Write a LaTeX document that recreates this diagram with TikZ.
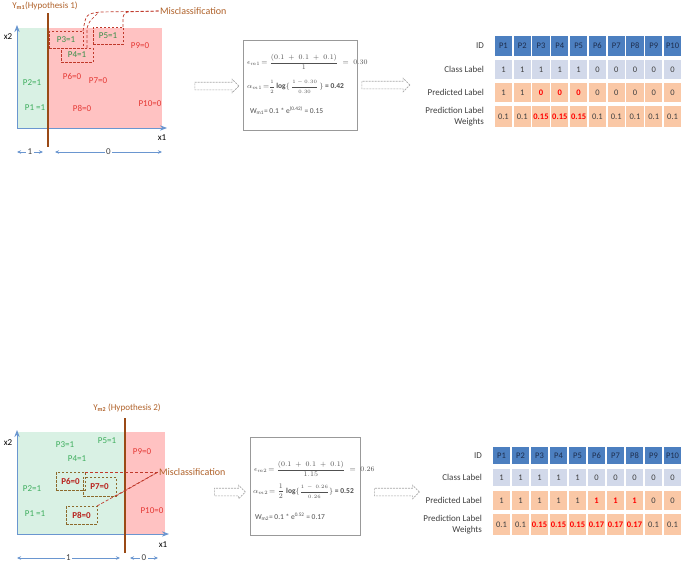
\documentclass[tikz,border=0pt]{standalone}
\usepackage{fontspec}
\setmainfont{Carlito}
\usepackage{amsmath}
\usetikzlibrary{shapes.arrows, positioning, arrows.meta}

\definecolor{axisblue}{HTML}{6A96D0}
\definecolor{hypbrown}{HTML}{9A4A16}
\definecolor{hyptext}{HTML}{B0622A}
\definecolor{zonegreen}{HTML}{D9F1E4}
\definecolor{zonered}{HTML}{FFC2C2}
\definecolor{ptgreen}{HTML}{3FAE5E}
\definecolor{ptdkgreen}{HTML}{3A8F4A}
\definecolor{ptred}{HTML}{E53935}
\definecolor{ptdkred}{HTML}{B8231E}
\definecolor{leadred}{HTML}{C0392B}
\definecolor{boxolive}{HTML}{8C6A2C}
\definecolor{idblue}{HTML}{4C7FC0}
\definecolor{idtext}{HTML}{1E2E4E}
\definecolor{classblue}{HTML}{D2D9EA}
\definecolor{peach}{HTML}{FAC8A6}
\definecolor{celltext}{HTML}{404040}
\definecolor{formgray}{HTML}{505050}

\newcommand{\wrong}[1]{\textcolor{red}{\textbf{#1}}}
\newcommand{\smallfrac}[2]{{\fontsize{5}{6}\selectfont$\dfrac{#1}{#2}$}}

\begin{document}
\begin{tikzpicture}[x=1pt,y=-1pt,
    every node/.style={inner sep=0pt,outer sep=0pt},
    axis/.style={->,>=Stealth,draw=axisblue,line width=0.9pt},
    span/.style={<->,>={Stealth[length=4pt,width=3.5pt]},draw=axisblue,line width=0.7pt},
    span label/.style={fill=white,inner xsep=1.5pt,text=celltext,font=\fontsize{9}{10}\selectfont},
    hyp line/.style={draw=hypbrown,line width=1.5pt},
    hyp label/.style={text=hyptext,font=\fontsize{9}{10}\selectfont},
    axis label/.style={font=\fontsize{9}{10}\selectfont},
    green pt/.style={text=ptgreen,font=\fontsize{9}{10}\selectfont},
    dkgreen pt/.style={text=ptdkgreen,font=\fontsize{9}{10}\selectfont},
    red pt/.style={text=ptred,font=\fontsize{9}{10}\selectfont},
    wrong pt/.style={text=ptdkred,font=\fontsize{9}{10}\selectfont\bfseries},
    red box/.style={draw=leadred,dash pattern=on 2.5pt off 1.5pt,line width=0.6pt},
    olive box/.style={draw=boxolive,dash pattern=on 2.5pt off 1.5pt,line width=0.6pt},
    leader/.style={draw=leadred,dash pattern=on 3pt off 2pt,line width=0.7pt},
    mis label/.style={anchor=west,text=hyptext,font=\fontsize{10}{11}\selectfont},
    hollow arrow/.style={single arrow,draw=gray!70,dash pattern=on 2pt off 1pt,line width=0.6pt,
        inner ysep=3.5pt,inner xsep=0pt,single arrow head extend=3pt},
    form box/.style={draw=gray!80,line width=0.7pt},
    form line/.style={anchor=west,text=formgray,font=\fontsize{7.5}{9}\selectfont},
    row label/.style={anchor=east,align=right,text=celltext,font=\fontsize{9}{10.5}\selectfont},
    cell/.style={minimum width=17.3pt,text=celltext,font=\fontsize{8.5}{10}\selectfont},
    id cell/.style={cell,fill=idblue,text=idtext},
    class cell/.style={cell,fill=classblue},
    pred cell/.style={cell,fill=peach}]

\useasboundingbox (0,0) rectangle (685,568);
\fill[white] (0,0) rectangle (685,568);

% hypothesis 1
\fill[zonegreen] (17,28) rectangle (48,128);
\fill[zonered] (48,28) rectangle (162,128);
\coordinate (o1) at (17,128);
\draw[axis] (o1) -- (17,25);
\draw[axis] (o1) -- (167,128);
\node[axis label] (x2a) at (8,37) {x2};
\node[axis label] (x1a) at (162,138) {x1};
\draw[hyp line] (48,13) -- (48,147);
\node[hyp label] (h1) at (45,6) {Y\textsubscript{\textbf{m1}}(Hypothesis 1)};
\coordinate (s1a) at (17,152); \coordinate (s1b) at (43,152);
\coordinate (s1c) at (55,152); \coordinate (s1d) at (162,152);
\draw[span] (s1a) -- node[span label] {1} (s1b);
\draw[span] (s1c) -- node[span label] {0} (s1d);

\node[green pt] (a1p2) at (32,83) {P2=1};
\node[green pt] (a1p1) at (35,108) {P1 =1};
\node[dkgreen pt,red box,minimum width=34,minimum height=17] (a1p3) at (66,39.5) {P3=1};
\node[dkgreen pt,red box,minimum width=32,minimum height=14] (a1p4) at (77,55) {P4=1};
\node[dkgreen pt,red box,minimum width=30,minimum height=17] (a1p5) at (108,35.5) {P5=1};
\node[red pt] (a1p9) at (140,46) {P9=0};
\node[red pt] (a1p6) at (72,76) {P6=0};
\node[red pt] (a1p7) at (98,81) {P7=0};
\node[red pt] (a1p8) at (82,108) {P8=0};
\node[red pt] (a1p10) at (150,104) {P10=0};

\coordinate (mis1) at (160,11);
\node[mis label] (m1) at (mis1) {Misclassification};
\draw[leader] (a1p3.north east) .. controls (86,14) .. (100,12) -- (mis1);
\draw[leader,rounded corners=6pt] ([xshift=-6pt]a1p4.north east) -- (87,24) -- (99,12);
\draw[leader,rounded corners=6pt] (a1p5.north east) -- (123,12) -- (mis1);

\node[hollow arrow,minimum height=44] (ar1) at (215,86) {};

\node[form box,minimum width=114,minimum height=90] (f1) at (300,85) {};
\node[form line] (f1e) at ([xshift=4pt]f1.west |- 0,62)
  {$\epsilon_{m1}\!=\dfrac{(0.1\;+\;0.1\;+\;0.1)}{1}\;=\;0.30$};
\node[form line] (f1a) at ([xshift=4pt]f1.west |- 0,87)
  {$\alpha_{m1}\!=$\smallfrac{1}{2}\,$\mathbf{log}\{$\,\smallfrac{1-0.30}{0.30}\,$\}$ \textbf{= 0.42}};
\node[form line] (f1w) at ([xshift=7pt]f1.west |- 0,111)
  {W\textsubscript{m1}= 0.1 * e\textsuperscript{(0.42)} = 0.15};

\node[hollow arrow,minimum height=48] (ar2) at (384,85) {};

% table 1
\node[row label] (t1id) at (484,46) {ID};
\node[row label] (t1cl) at (484,69.5) {Class Label};
\node[row label] (t1pr) at (484,92.5) {Predicted Label};
\node[row label] (t1wt) at (484,116.5) {Prediction Label\\Weights};
\foreach \i in {1,...,10}
  \node[id cell,minimum height=20.5] (t1i\i) at ({494+18.8*\i-9.4},46) {P\i};
\foreach \v [count=\i] in {1,1,1,1,1,0,0,0,0,0}
  \node[class cell,minimum height=19.5] (t1c\i) at ({494+18.8*\i-9.4},69.5) {\v};
\foreach \v [count=\i] in {1,1,\wrong{0},\wrong{0},\wrong{0},0,0,0,0,0}
  \node[pred cell,minimum height=19.5] (t1p\i) at ({494+18.8*\i-9.4},92.5) {\v};
\foreach \v [count=\i] in {0.1,0.1,\wrong{0.15},\wrong{0.15},\wrong{0.15},0.1,0.1,0.1,0.1,0.1}
  \node[pred cell,minimum height=21.5] (t1w\i) at ({494+18.8*\i-9.4},116.5) {\v};

% hypothesis 2
\fill[zonegreen] (17,432) rectangle (125,534);
\fill[zonered] (125,432) rectangle (165,534);
\coordinate (o2) at (17,534);
\draw[axis] (o2) -- (17,430);
\draw[axis] (o2) -- (169,534);
\node[axis label] (x2b) at (8,443) {x2};
\node[axis label] (x1b) at (163,545) {x1};
\draw[hyp line] (125,418) -- (125,553);
\node[hyp label] (h2) at (127,408) {Y\textsubscript{\textbf{m2}} (Hypothesis 2)};
\coordinate (s2a) at (17,558); \coordinate (s2b) at (120,558);
\coordinate (s2c) at (130,558); \coordinate (s2d) at (158,558);
\draw[span] (s2a) -- node[span label] {1} (s2b);
\draw[span] (s2c) -- node[span label] {0} (s2d);

\node[green pt] (a2p3) at (65,445) {P3=1};
\node[green pt] (a2p5) at (107,441) {P5=1};
\node[green pt] (a2p4) at (77,459) {P4=1};
\node[green pt] (a2p2) at (32,489) {P2=1};
\node[green pt] (a2p1) at (35,514) {P1 =1};
\node[red pt] (a2p9) at (142,452) {P9=0};
\node[red pt] (a2p10) at (152,511) {P10=0};
\node[wrong pt,olive box,minimum width=29,minimum height=18] (a2p6) at (70.5,481) {P6=0};
\node[wrong pt,olive box,minimum width=33,minimum height=19] (a2p7) at (99.5,486.5) {P7=0};
\node[wrong pt,olive box,minimum width=31,minimum height=18] (a2p8) at (81.5,515) {P8=0};

\coordinate (mis2) at (158,472);
\node[mis label] (m2) at ([xshift=1pt]mis2) {Misclassification};
\draw[leader] (a2p6.north east) -- (mis2);
\draw[leader] (a2p7.south east) -- (mis2);
\draw[leader] (a2p8.north east) -- (mis2);

\node[hollow arrow,minimum height=31] (ar3) at (228,492) {};

\node[form box,minimum width=110,minimum height=98] (f2) at (305,486) {};
\node[form line] (f2e) at ([xshift=4pt]f2.west |- 0,469)
  {$\epsilon_{m2}\!=\dfrac{(0.1\;+\;0.1\;+\;0.1)}{1.15}\;=\;0.26$};
\node[form line] (f2a) at ([xshift=3pt]f2.west |- 0,491)
  {$\alpha_{m2}\!=\dfrac{1}{2}\;\mathbf{log}\{$\smallfrac{1\,-\,0.26}{0.26}$\}$ \textbf{= 0.52}};
\node[form line] (f2w) at ([xshift=5pt]f2.west |- 0,517)
  {W\textsubscript{m2}= 0.1 * e\textsuperscript{0.52} = 0.17};

\node[hollow arrow,minimum height=45] (ar4) at (395,492) {};

% table 2
\node[row label] (t2id) at (482,455.5) {ID};
\node[row label] (t2cl) at (482,477.5) {Class Label};
\node[row label] (t2pr) at (482,500.5) {Predicted Label};
\node[row label] (t2wt) at (482,524.5) {Prediction Label\\Weights};
\foreach \i in {1,...,10}
  \node[id cell,minimum width=17.5,minimum height=17.5] (t2i\i) at ({492+19*\i-9.5},455.5) {P\i};
\foreach \v [count=\i] in {1,1,1,1,1,0,0,0,0,0}
  \node[class cell,minimum width=17.5,minimum height=17.5] (t2c\i) at ({492+19*\i-9.5},477.5) {\v};
\foreach \v [count=\i] in {1,1,1,1,1,\wrong{1},\wrong{1},\wrong{1},0,0}
  \node[pred cell,minimum width=17.5,minimum height=19.5] (t2p\i) at ({492+19*\i-9.5},500.5) {\v};
\foreach \v [count=\i] in {0.1,0.1,\wrong{0.15},\wrong{0.15},\wrong{0.15},\wrong{0.17},\wrong{0.17},\wrong{0.17},0.1,0.1}
  \node[pred cell,minimum width=17.5,minimum height=21.5] (t2w\i) at ({492+19*\i-9.5},524.5) {\v};
\end{tikzpicture}
\end{document}
